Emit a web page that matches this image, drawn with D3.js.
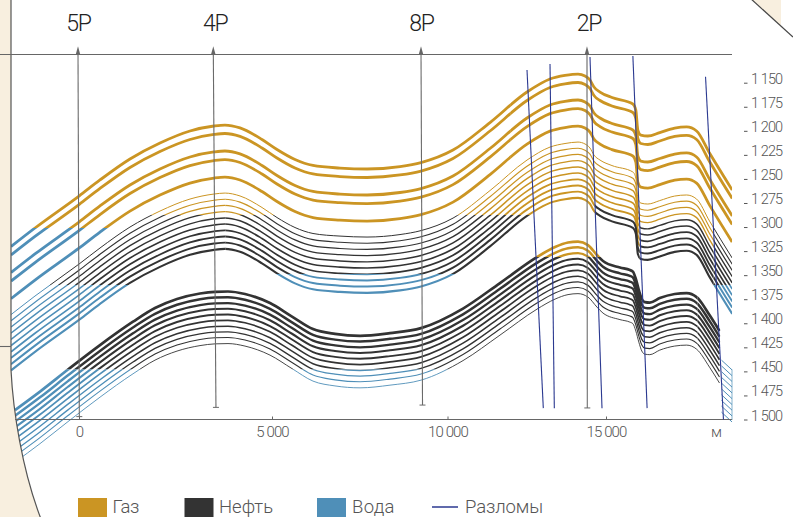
<!DOCTYPE html>
<html>
<head>
<meta charset="utf-8">
<script src="https://cdn.jsdelivr.net/npm/d3@7"></script>
<style>
   html, body { margin: 0; padding: 0; background: #fff; }
   svg { display: block; }
   text { font-family: Roboto, "Open Sans", sans-serif; font-weight: 300; fill: #555; }
</style>
</head>
<body>
<svg id="svg" width="793" height="517"></svg>
<script>
// distance along the section (m) and depth (m)
const xTicks = [0, 5000, 10000, 15000];
const depthTicks = [1150, 1175, 1200, 1225, 1250, 1275, 1300, 1325, 1350, 1375, 1400, 1425, 1450, 1475, 1500];

// top horizon of the upper packs
const upperX = [-1761, -1140, 0, 544, 1321, 2098, 2875, 3497, 3781, 4171, 4741, 5142, 5655, 6168, 6937, 7707, 8647, 9245,
   10174, 11341, 12508, 13234, 13707, 14117, 14338, 14495, 14621, 14811, 15189, 15852, 15946, 16009, 16104, 16325,
   16704, 17177, 17556, 17871, 18281, 19000];
const upperDepth = [1320.3, 1301, 1267.8, 1251.1, 1229.3, 1212.7, 1200.2, 1195, 1194, 1197, 1209, 1219.4, 1229.8, 1236, 1238.7, 1239.7, 1237.1, 1233,
   1220, 1191.4, 1159.7, 1146.2, 1142.5, 1141, 1143, 1147.2, 1154.5, 1159.7, 1165.4, 1172.1, 1178.4, 1199.2, 1204.4, 1205.4,
   1201.8, 1197.1, 1196, 1200.2, 1223.1, 1261.5];

// top horizon of the lower pack, null is the break at the last fault
const lowerX = [-1658, -1010, -285, 544, 1399, 1969, 2539, 3135, 3523, 3860, 4300, 4948, 5570, 6168, 6795, 7508, 8362, 9245,
   10489, 11656, 12823, 13392, 13802, 14117, 14432, 14716, 14905, 15442, 15757, 15852, 15946, 16041, 16136, 16230, 16388,
   16704, 17177, 17556, 17871, 18281, 18597, 18630, 18660, 19000];
const lowerDepth = [1490.2, 1471, 1448.1, 1422.7, 1398.4, 1384.2, 1374.8, 1369.1, 1367.3, 1367, 1369.6, 1379, 1393, 1406, 1411, 1413, 1410.2, 1405,
   1384.7, 1358.2, 1331.2, 1320.8, 1316.1, 1315.1, 1318.7, 1329.1, 1335.3, 1342.1, 1344.7, 1346.3, 1354, 1365.5, 1374.8, 1378, 1378.5,
   1373.8, 1369.6, 1368.6, 1372.8, 1391.5, 1408, null, 1438.3, 1448.6];

// depth of each horizon below the top one
const gasOffsets = [0, 8.8, 27, 35.9, 54.1];
const thinOffsets = [70.7, 77.1, 83.6, 90, 96.5, 102.9, 109.4, 115.8, 122.2, 128.7];
const lowerOffsets = [0, 6, 12, 17.9, 23.9, 29.9, 36, 41.9, 47.8, 54.1];

// contacts by fault block: x0, x1, gas/oil depth, oil/water depth, horizons that are all gas
const gasBlocks = [
   [-2000, 12000, 1301, 1301, 0],
   [12000, 19000, 1301, 1301, 5]
];
const thinBlocks = [
   [-2000, 3800, 1287.5, 1360.3, 0],
   [3800, 12724, 1287.5, 1348.9, 0],
   [12724, 14653, 1287.5, 1348.9, 10],
   [14653, 16072, 1275, 1348.9, 8],
   [16072, 18407, 1100, 1360.3, 4],
   [18407, 19000, 1100, 1360.3, 0]
];
const lowerBlocks = [
   [-2000, 17900, 1331.2, 1448.1, 0],
   [17900, 18630, 1331.2, 1600, 0],
   [18630, 19000, 1331.2, 1436, 0]
];

// x top, depth top, x bottom, depth bottom
const faults = [
   [12508, 1136.8, 13022, 1488.2],
   [13234, 1130.6, 13370, 1488.2],
   [14495, 1123.3, 14874, 1488.2],
   [15852, 1122.2, 16303, 1488.2],
   [18155, 1143.8, 18723, 1500]
];

const wellNames = ['5P', '4P', '8P', '2P'];
const wellTopX = [-26, 3479, 9245, 14400];
const wellBottomX = [8, 3548, 9288, 14410];
const wellBottomDepth = [1497, 1487.4, 1485, 1488];

const legendNames = ['Газ', 'Нефть', 'Вода', 'Разломы'];

const colors = { gas: '#cb9523', oil: '#333333', water: '#4f8fb8', fault: '#2b3990' };

let svg = d3.select('#svg');

// the section is stretched unevenly, so the x scale has several pieces
let x = d3.scaleLinear().domain([0, 5000, 10000, 15000, 19000]).range([79, 272, 447.5, 606, 732.2]);
let y = d3.scaleLinear().domain([1150, 1500]).range([82.7, 419.5]);

let defs = svg.append('defs');
const boundary = 'M11,-2 L11,370 C13,410 22,470 41,519';
defs.append('clipPath').attr('id', 'chart-area')
   .append('path').attr('d', boundary + ' L732.2,519 L732.2,-2 Z');

// frame
svg.append('rect').attr('width', 793).attr('height', 517).attr('fill', '#f8efdf');
svg.append('path').attr('d', boundary + ' L793,519 L793,37 L750,-2 Z').attr('fill', '#fff');
svg.append('path').attr('d', 'M781,-2 L793,-2 L793,37 L781,26 Z').attr('fill', '#fff');

let lineGen = d3.line().defined(d => d[1] !== null).curve(d3.curveMonotoneX);

function horizonPath(xs, depths, offset) {
   return lineGen(xs.map((d, i) => [x(d), depths[i] === null ? null : y(depths[i] + offset)]));
}

let chart = svg.append('g').attr('clip-path', 'url(#chart-area)');

function drawPack(name, xs, depths, offsets, blocks, width) {
   offsets.forEach((offset, i) => {
      let d = horizonPath(xs, depths, offset);
      blocks.forEach((b, j) => {
         let goc = i < b[4] ? 3000 : b[2];
         let owc = Math.max(goc, b[3]);
         let bands = [
            ['gas', -100, y(goc)],
            ['oil', y(goc), y(owc)],
            ['water', y(owc), 700]
         ];
         bands.forEach(band => {
            let h = band[2] - band[1];
            if (h <= 0) return;
            let id = name + '-' + i + '-' + j + '-' + band[0];
            defs.append('clipPath').attr('id', id).append('rect')
               .attr('x', x(b[0]))
               .attr('y', band[1])
               .attr('width', x(b[1]) - x(b[0]))
               .attr('height', h);
            chart.append('path')
               .attr('d', d)
               .attr('fill', 'none')
               .attr('stroke', colors[band[0]])
               .attr('stroke-width', width(i, j))
               .attr('clip-path', 'url(#' + id + ')');
         });
      });
   });
}

let thinWidth = d3.scaleLinear().domain([0, 9]).range([1, 2.1]);
let lowerWidth = d3.scaleLinear().domain([0, 9]).range([2.7, 0.9]);

drawPack('gas', upperX, upperDepth, gasOffsets, gasBlocks, () => 2.8);
drawPack('thin', upperX, upperDepth, thinOffsets, thinBlocks, i => thinWidth(i));
// past the last fault the lower pack is a thin hatch
drawPack('lower', lowerX, lowerDepth, lowerOffsets, lowerBlocks, (i, j) => j == 2 ? 1 : lowerWidth(i));

// frame lines on top of the horizons
svg.append('path').attr('d', boundary).attr('fill', 'none').attr('stroke', '#555').attr('stroke-width', 1.2);
svg.append('path').attr('d', 'M750,-2 L793,37').attr('fill', 'none').attr('stroke', '#444').attr('stroke-width', 1.2);

let frameLines = [[0, 54.5, 732, 54.5], [0, 346.5, 11, 346.5], [15, 419.5, 732.2, 419.5]];
svg.selectAll('.frame').data(frameLines).enter().append('line')
   .attr('x1', d => d[0]).attr('y1', d => d[1]).attr('x2', d => d[2]).attr('y2', d => d[3])
   .attr('stroke', '#666').attr('stroke-width', 1.1);
svg.append('line')
   .attr('x1', 732).attr('y1', y(1448)).attr('x2', 732).attr('y2', 419.5)
   .attr('stroke', colors.water).attr('stroke-width', 0.7);

// wells
const wellTopDepth = 1112;
const wellLabelShift = [0.5, 2, 0.5, 2];
let wells = svg.append('g');
wellNames.forEach((name, i) => {
   let x0 = x(wellTopX[i]), x1 = x(wellBottomX[i]), yb = y(wellBottomDepth[i]);
   wells.append('line')
      .attr('x1', x0).attr('y1', y(wellTopDepth) + 4)
      .attr('x2', x1).attr('y2', yb)
      .attr('stroke', '#6a6a6a').attr('stroke-width', 1.1);
   wells.append('path')
      .attr('d', 'M' + x0 + ',' + y(wellTopDepth) + ' l2.2,8 h-4.4 Z')
      .attr('fill', '#666');
   wells.append('line')
      .attr('x1', x1 - 3).attr('y1', yb).attr('x2', x1 + 3).attr('y2', yb)
      .attr('stroke', '#6a6a6a').attr('stroke-width', 1);
   svg.append('text')
      .attr('x', x0 + wellLabelShift[i])
      .attr('y', 31)
      .attr('text-anchor', 'middle')
      .attr('font-size', 23)
      .attr('letter-spacing', -1.2)
      .style('fill', '#222')
      .text(name);
});

// faults
svg.selectAll('.fault').data(faults).enter().append('line')
   .attr('x1', d => x(d[0])).attr('y1', d => y(d[1]))
   .attr('x2', d => x(d[2])).attr('y2', d => y(d[3]))
   .attr('stroke', colors.fault).attr('stroke-width', 1.1);

// axes
function spaced(d) {
   return d3.format(',')(d).replace(',', ' ');
}

let xAxis = svg.append('g')
   .attr('transform', 'translate(0,419.5)')
   .call(d3.axisBottom(x).tickValues(xTicks).tickSizeInner(-3).tickSizeOuter(0).tickPadding(7).tickFormat(spaced));
xAxis.select('.domain').remove();
xAxis.selectAll('line').attr('stroke', '#666');
xAxis.selectAll('text')
   .attr('font-family', null)
   .attr('font-size', 15)
   .attr('letter-spacing', -0.9);

svg.append('text').attr('x', 716.5).attr('y', 436.5).attr('text-anchor', 'middle').attr('font-size', 15).text('м');

let yAxis = svg.append('g')
   .attr('transform', 'translate(744,0)')
   .call(d3.axisRight(y).tickValues(depthTicks).tickSizeInner(3.5).tickSizeOuter(0).tickPadding(3.5).tickFormat(spaced));
yAxis.select('.domain').remove();
yAxis.selectAll('line').attr('stroke', '#555');
yAxis.selectAll('text')
   .attr('dy', 0.5)
   .attr('font-size', 14.5)
   .attr('letter-spacing', -0.9);

// legend
const swatchX = [78, 184.5, 317];
[colors.gas, colors.oil, colors.water].forEach((c, i) => {
   svg.append('rect').attr('x', swatchX[i]).attr('y', 498).attr('width', 29).attr('height', 19).attr('fill', c);
});
svg.append('line').attr('x1', 432).attr('y1', 507).attr('x2', 458).attr('y2', 507)
   .attr('stroke', colors.fault).attr('stroke-width', 1.5);
const legendTextX = [112.5, 219, 352, 465];
const legendSpacing = [-0.3, 0, 0.3, -0.1];
legendNames.forEach((name, i) => {
   svg.append('text')
      .attr('x', legendTextX[i])
      .attr('y', 512.5)
      .attr('font-size', 18.5)
      .attr('letter-spacing', legendSpacing[i])
      .text(name);
});
</script>
</body>
</html>
